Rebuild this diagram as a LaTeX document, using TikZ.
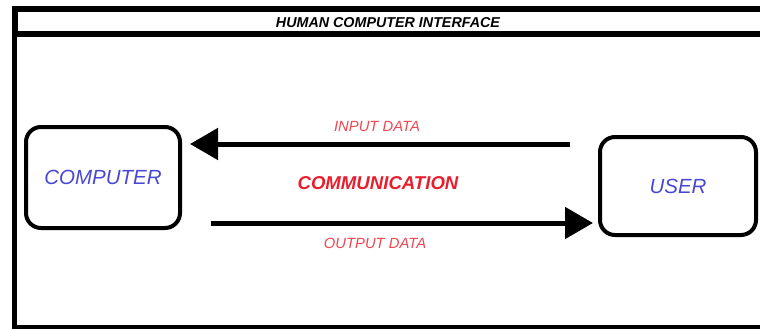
\documentclass[tikz,border=0pt]{standalone}
\usepackage{fontspec}
\setmainfont{Liberation Sans}
\usetikzlibrary{arrows.meta}
\definecolor{boxblue}{RGB}{72,72,212}
\definecolor{lred}{RGB}{240,70,80}
\definecolor{dred}{RGB}{232,30,45}
\tikzset{
  framebox/.style={draw=black, line width=4.5pt},
  headbox/.style={draw=black, line width=6pt},
  entity/.style={draw=black, line width=4pt, rounded corners=15pt, inner sep=0pt, text=boxblue, font=\fontsize{20.5}{24}\selectfont\itshape},
  flow/.style={line width=5pt, -{Triangle[length=28pt,width=31pt]}},
  flowlabel/.style={text=lred, font=\fontsize{14.8}{17}\selectfont\itshape, inner sep=0pt},
  titletext/.style={font=\fontsize{14.3}{16}\selectfont\bfseries\itshape, inner sep=0pt},
}
\begin{document}
\begin{tikzpicture}[x=1pt,y=-1pt]
\useasboundingbox (0,0) rectangle (760,329);
% outer frame (open to the right)
\draw[framebox] (770,327.5) -- (14.5,327.5) -- (14.5,9.5);
% header band
\draw[headbox] (770,9.5) -- (14.5,9.5) -- (14.5,34.5) -- (770,34.5);
\node[titletext] (title) at (388,23) {HUMAN COMPUTER INTERFACE};
% entities
\node[entity, minimum width=154pt, minimum height=101pt] (comp) at (103,177.5) {COMPUTER};
\node[entity, minimum width=156pt, minimum height=98pt] (user) at (678,186) {USER};
% flows
\draw[flow, shorten <=28pt, shorten >=8pt] (user.west |- 0,144) -- (comp.east |- 0,144);
\draw[flow, shorten <=29pt, shorten >=5pt] (comp.east |- 0,223) -- (user.west |- 0,223);
% labels
\node[flowlabel] (inlab) at (377,126) {INPUT DATA};
\node[text=dred, font=\fontsize{18.6}{21}\selectfont\bfseries\itshape, inner sep=0pt] (comm) at (378,183) {COMMUNICATION};
\node[flowlabel] (outlab) at (375,243) {OUTPUT DATA};
\end{tikzpicture}
\end{document}
